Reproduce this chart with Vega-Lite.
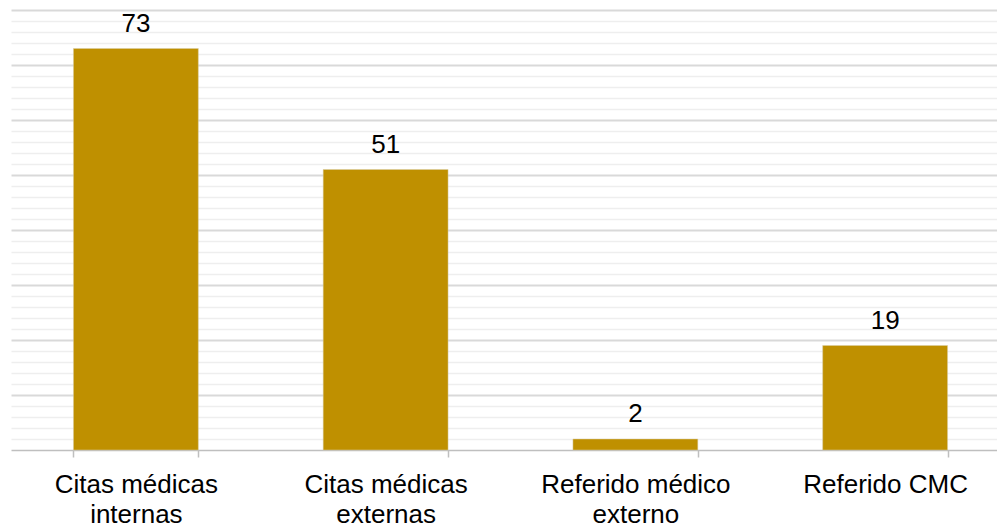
{
  "$schema": "https://vega.github.io/schema/vega-lite/v6.json",
  "width": 986,
  "height": 440,
  "autosize": {"type": "none"},
  "padding": {"left": 11, "top": 10, "right": 0, "bottom": 77},
  "background": "white",
  "config": {"view": {"stroke": null}, "font": "Liberation Sans"},
  "data": {
    "values": [
      {"categoria": "Citas médicas internas", "valor": 73},
      {"categoria": "Citas médicas externas", "valor": 51},
      {"categoria": "Referido médico externo", "valor": 2},
      {"categoria": "Referido CMC", "valor": 19}
    ]
  },
  "encoding": {
    "x": {
      "field": "categoria",
      "type": "nominal",
      "sort": null,
      "scale": {"range": [0, 999], "paddingInner": 0.5, "paddingOuter": 0.25},
      "axis": {
        "title": null,
        "labelAngle": 0,
        "labelFont": "Liberation Sans",
        "labelFontSize": 26,
        "labelColor": "#000000",
        "labelBaseline": "top",
        "labelPadding": 14,
        "labelLineHeight": 30,
        "labelLimit": 400,
        "labelExpr": "datum.label == 'Referido CMC' ? datum.label : [slice(datum.label, 0, lastindexof(datum.label, ' ')), slice(datum.label, lastindexof(datum.label, ' ') + 1)]",
        "tickBand": "extent",
        "tickSize": 7,
        "tickColor": "#bfbfbf",
        "tickWidth": 1.5,
        "domainColor": "#bfbfbf",
        "domainWidth": 1.5,
        "grid": false
      }
    },
    "y": {
      "field": "valor",
      "type": "quantitative",
      "scale": {"domain": [0, 80], "nice": false}
    }
  },
  "layer": [
    {
      "mark": {"type": "bar", "color": "#BF9000", "opacity": 0},
      "encoding": {
        "y": {
          "field": "valor",
          "type": "quantitative",
          "axis": {
            "orient": "left",
            "title": null,
            "labels": false,
            "ticks": false,
            "domain": false,
            "grid": true,
            "gridColor": "#eeeeee",
            "gridWidth": 1.5,
            "values": [2, 4, 6, 8, 12, 14, 16, 18, 22, 24, 26, 28, 32, 34, 36, 38, 42, 44, 46, 48, 52, 54, 56, 58, 62, 64, 66, 68, 72, 74, 76, 78]
          }
        }
      }
    },
    {
      "mark": {"type": "bar", "color": "#BF9000", "opacity": 0},
      "encoding": {
        "y": {
          "field": "valor",
          "type": "quantitative",
          "axis": {
            "orient": "left",
            "title": null,
            "labels": false,
            "ticks": false,
            "domain": false,
            "grid": true,
            "gridColor": "#d9d9d9",
            "gridWidth": 2,
            "values": [10, 20, 30, 40, 50, 60, 70, 80]
          }
        }
      }
    },
    {
      "mark": {"type": "bar", "color": "#BF9000", "stroke": "#d8cfa8", "strokeWidth": 0.5}
    },
    {
      "mark": {"type": "text", "baseline": "alphabetic", "dy": -17, "fontSize": 26, "font": "Liberation Sans", "color": "#000000"},
      "encoding": {"text": {"field": "valor", "type": "quantitative"}}
    }
  ],
  "resolve": {"axis": {"y": "independent"}}
}
